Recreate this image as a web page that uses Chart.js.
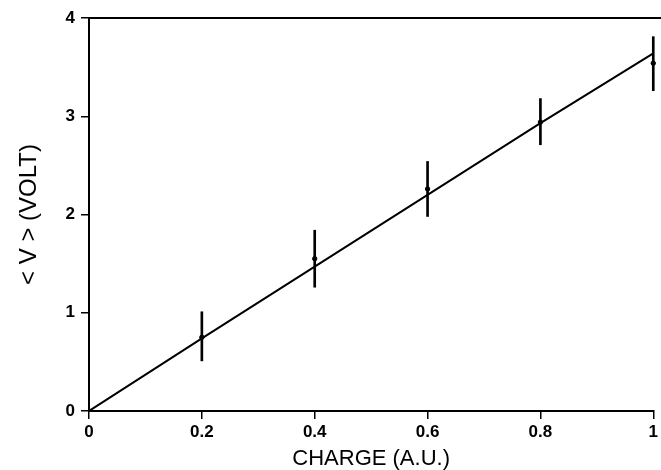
<!DOCTYPE html>
<html>
<head>
<meta charset="utf-8">
<script src="https://cdn.jsdelivr.net/npm/chart.js@4/dist/chart.umd.min.js"></script>
<style>
  html, body { margin: 0; padding: 0; background: #fff; }
</style>
</head>
<body>
<canvas id="chargeChart" width="661" height="470"></canvas>
<script>
// measured points with error bars
const charge = [0.2, 0.4, 0.6, 0.8, 1.0];
const meanVolt = [0.75, 1.55, 2.26, 2.94, 3.54];
const errLow = [0.51, 1.26, 1.98, 2.71, 3.26];
const errHigh = [1.01, 1.84, 2.54, 3.18, 3.81];

// fitted line
const fitCharge = [0, 0.2, 0.4, 0.6, 0.8, 1.0];
const fitVolt = [0, 0.74, 1.47, 2.2, 2.93, 3.64];

const xTickLabels = ['0', '0.2', '0.4', '0.6', '0.8', '1'];
const yTickLabels = ['0', '1', '2', '3', '4'];

const tickFont = { family: "'Liberation Sans', Arial, sans-serif", size: 17, weight: 'bold' };

// top edge of the frame
const frameTop = {
  id: 'frameTop',
  afterDraw(chart) {
    const { ctx, chartArea } = chart;
    ctx.save();
    ctx.strokeStyle = '#000';
    ctx.lineWidth = 2;
    ctx.beginPath();
    ctx.moveTo(chartArea.left, chartArea.top);
    ctx.lineTo(chart.width, chartArea.top);
    ctx.stroke();
    ctx.restore();
  }
};

const ctx = document.getElementById('chargeChart').getContext('2d');
const chargeChart = new Chart(ctx, {
  type: 'scatter',
  data: {
    datasets: [
      {
        type: 'bar',
        label: 'error',
        data: charge.map((c, i) => ({ x: c, y: [errLow[i], errHigh[i]] })),
        backgroundColor: '#000',
        borderWidth: 0,
        barThickness: 2,
        grouped: false,
        clip: false
      },
      {
        type: 'scatter',
        label: '<V>',
        data: charge.map((c, i) => ({ x: c, y: meanVolt[i] })),
        backgroundColor: '#000',
        borderColor: '#000',
        pointRadius: 2.2,
        pointHoverRadius: 2.2,
        clip: false
      },
      {
        type: 'line',
        label: 'fit',
        data: fitCharge.map((c, i) => ({ x: c, y: fitVolt[i] })),
        borderColor: '#000',
        borderWidth: 2,
        pointRadius: 0,
        tension: 0,
        fill: false
      }
    ]
  },
  options: {
    responsive: false,
    animation: false,
    layout: { padding: { top: 18, right: 0, bottom: 0, left: 0 } },
    plugins: {
      legend: { display: false },
      tooltip: { enabled: false }
    },
    scales: {
      x: {
        type: 'linear',
        min: 0,
        max: 1,
        offset: false,
        afterFit(scale) { scale.height = 59; },
        border: { color: '#000', width: 2 },
        grid: { display: true, offset: false, drawOnChartArea: false, drawTicks: true, tickLength: 8, color: '#000', lineWidth: 1.5 },
        ticks: {
          stepSize: 0.2,
          padding: 3,
          color: '#000',
          font: tickFont,
          callback: (v) => xTickLabels[Math.round(v * 5)]
        },
        title: {
          display: true,
          text: 'CHARGE (A.U.)',
          color: '#000',
          font: { family: "'Liberation Sans', Arial, sans-serif", size: 22, lineHeight: 1 },
          padding: { top: 0, bottom: 0 }
        }
      },
      y: {
        min: 0,
        max: 4,
        afterFit(scale) { scale.width = 89; },
        border: { color: '#000', width: 2 },
        grid: { display: true, drawOnChartArea: false, drawTicks: true, tickLength: 8, color: '#000', lineWidth: 1.5 },
        ticks: {
          stepSize: 1,
          padding: 6,
          color: '#000',
          font: tickFont,
          callback: (v) => yTickLabels[Math.round(v)]
        },
        title: {
          display: true,
          text: '< V > (VOLT)',
          color: '#000',
          font: { family: "'Liberation Sans', Arial, sans-serif", size: 24 },
          padding: { top: 15, bottom: 0 }
        }
      }
    }
  },
  plugins: [frameTop]
});
</script>
</body>
</html>
